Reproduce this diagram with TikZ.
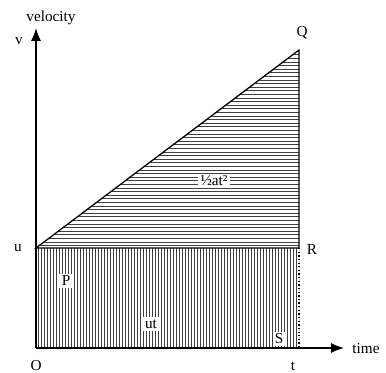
\documentclass[tikz,border=0pt]{standalone}
\usepackage{fontspec}
\setmainfont{Liberation Serif}
\usetikzlibrary{arrows.meta}
\tikzset{hatch/.style={black!75, line width=0.5pt},
  lbl/.style={fill=white, inner sep=2pt}}
\begin{document}
\begin{tikzpicture}[>={Latex[length=11pt,width=8.5pt]}, x=0.03cm, y=-0.03cm, font=\fontsize{13}{15}\selectfont]
\useasboundingbox (0,0) rectangle (386,373);
\coordinate (O) at (36,348);
\coordinate (U) at (36,248);
\coordinate (Q) at (299,50);
\coordinate (R) at (299,248);
\coordinate (T) at (299,348);
\coordinate (vtip) at (36,28);
\coordinate (ttip) at (344,348);
% hatching
\begin{scope}
\clip (U) -- (Q) -- (R) -- cycle;
\foreach \y in {51,54.6,...,248} \draw[hatch] (36,\y) -- (299,\y);
\end{scope}
\begin{scope}
\clip (U) rectangle (T);
\foreach \x in {38,41,...,299} \draw[hatch] (\x,248) -- (\x,348);
\end{scope}
\draw[line width=1.1pt] (U) -- (Q) -- (R) -- cycle;
\draw[dotted, line width=1.1pt] (R) -- (T);
\draw[->, line width=1.1pt] (O) -- (vtip);
\draw[->, line width=1.1pt] (O) -- (ttip);
% labels
\node (vel) at (51,18) {velocity};
\node (v) at (19,41) {v};
\node (q) at (302,33) {Q};
\node (u) at (18,248) {u};
\node (r) at (312,250) {R};
\node (o) at (36,366) {O};
\node (t) at (293,366) {t};
\node (time) at (366,349) {time};
\node[lbl] (p) at (66,281) {P};
\node[lbl] (ut) at (151,324) {ut};
\node[lbl, inner sep=1.5pt] (s) at (279,339) {S};
\node[lbl] (half) at (214,181) {½at²};
\end{tikzpicture}
\end{document}
